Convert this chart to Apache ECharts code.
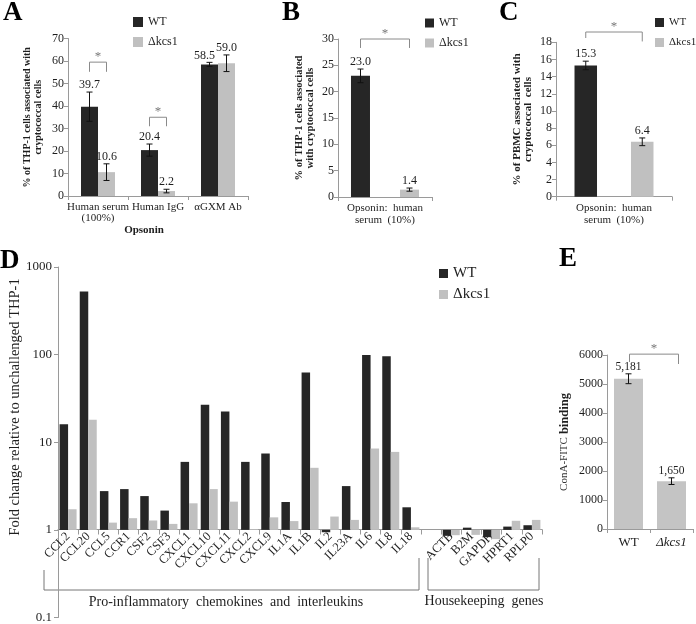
<!DOCTYPE html>
<html>
<head>
<meta charset="utf-8">
<script src="https://cdn.jsdelivr.net/npm/echarts@6/dist/echarts.min.js"></script>
<style>
  html, body { margin: 0; padding: 0; background: #fff; }
  #chart { width: 696px; height: 624px; }
</style>
</head>
<body>
<div id="chart"></div>
<script>
const SERIF = '"Liberation Serif", "DejaVu Serif", serif';
const WT_COLOR = '#262626';
const KO_COLOR = '#c0c0c0';
const AXIS_COLOR = '#9a9a9a';
const TEXT_COLOR = '#1e1e1e';

// A: THP-1 association by opsonin
const opsoninA = ['Human serum\n(100%)', 'Human IgG', 'αGXM Ab'];
const wtA = [39.7, 20.4, 58.5];
const wtErrA = [6.5, 2.7, 0.9];
const kcsA = [10.6, 2.2, 59.0];
const kcsErrA = [3.7, 0.8, 3.7];

// B: THP-1, human serum 10%
const opsoninB = ['Opsonin:  human\nserum  (10%)'];
const wtB = [23.0];
const wtErrB = [1.3];
const kcsB = [1.4];
const kcsErrB = [0.3];

// C: PBMC, human serum 10%
const opsoninC = ['Opsonin:  human\nserum  (10%)'];
const wtC = [15.3];
const wtErrC = [0.5];
const kcsC = [6.4];
const kcsErrC = [0.45];

// D: fold change (log scale), empty slot separates the two gene groups
const genes = ['CCL2', 'CCL20', 'CCL5', 'CCR1', 'CSF2', 'CSF3', 'CXCL1', 'CXCL10', 'CXCL11', 'CXCL2',
  'CXCL9', 'IL1A', 'IL1B', 'IL2', 'IL23A', 'IL6', 'IL8', 'IL18', '',
  'ACTB', 'B2M', 'GAPDH', 'HPRT1', 'RPLP0'];
const wtD = [16, 525, 2.77, 2.92, 2.43, 1.66, 5.97, 26.8, 22.5, 5.97,
  7.44, 2.08, 62.7, 0.94, 3.16, 99, 95.6, 1.81, null,
  0.855, 1.06, 0.826, 1.09, 1.13];
const kcsD = [1.72, 18.1, 1.21, 1.36, 1.28, 1.17, 2.01, 2.92, 2.10, 1.02,
  1.39, 1.26, 5.11, 1.42, 1.30, 8.48, 7.76, 1.07, null,
  0.87, 0.877, 0.784, 1.27, 1.30];

// E: ConA-FITC binding
const strainsE = ['WT', 'Δkcs1'];
const bindingE = [5181, 1650];
const bindingErrE = [170, 115];

const chart = echarts.init(document.getElementById('chart'));

const oneDec = v => v.toFixed(1);
const thousands = v => String(v).replace(/\B(?=(\d{3})+(?!\d))/g, ',');
const plain = v => String(v);

// error bar + value label drawn above the bar
function errSeries(idx, vals, errs, offset, fmt, fontSize, shifts) {
  return {
    type: 'custom',
    xAxisIndex: idx, yAxisIndex: idx,
    z: 5,
    encode: { x: 0, y: 1 },
    data: vals.map((v, i) => [i, v, errs[i]]),
    renderItem: function (params, api) {
      const i = api.value(0), v = api.value(1), e = api.value(2);
      const hi = api.coord([i, v + e]);
      const lo = api.coord([i, v - e]);
      const x = hi[0] + offset;
      const dx = shifts ? shifts[i] : 0;
      const ln = (x1, y1, x2, y2) => ({
        type: 'line', shape: { x1, y1, x2, y2 },
        style: { stroke: '#111', lineWidth: 1 }
      });
      return {
        type: 'group',
        children: [
          ln(x, hi[1], x, lo[1]),
          ln(x - 3, hi[1], x + 3, hi[1]),
          ln(x - 3, lo[1], x + 3, lo[1]),
          {
            type: 'text', x: x + dx, y: hi[1] - 1,
            style: {
              text: fmt(v), align: 'center', verticalAlign: 'bottom',
              fill: TEXT_COLOR, font: fontSize + 'px ' + SERIF
            }
          }
        ]
      };
    }
  };
}

function valAxis(idx, min, max, interval, name, gap, size, lh) {
  return {
    gridIndex: idx, type: 'value', min, max, interval,
    axisLine: { show: true, lineStyle: { color: AXIS_COLOR } },
    axisTick: { show: true, length: 4, lineStyle: { color: AXIS_COLOR } },
    splitLine: { show: false },
    axisLabel: { color: TEXT_COLOR, fontFamily: SERIF, fontSize: 12, margin: 4, formatter: plain },
    name, nameLocation: 'middle', nameRotate: 90, nameGap: gap,
    nameTextStyle: { color: TEXT_COLOR, fontFamily: SERIF, fontWeight: 'bold', fontSize: size, lineHeight: lh }
  };
}

function catAxis(idx, data, extra) {
  return Object.assign({
    gridIndex: idx, type: 'category', data,
    axisLine: { show: true, lineStyle: { color: AXIS_COLOR } },
    axisTick: { show: true, length: 4, lineStyle: { color: AXIS_COLOR } },
    axisLabel: { color: TEXT_COLOR, fontFamily: SERIF, fontSize: 11, lineHeight: 11, margin: 6, interval: 0 }
  }, extra || {});
}

function legendAt(left, top, size, fontSize, gap) {
  return {
    left, top, orient: 'vertical', padding: 0, icon: 'rect',
    itemWidth: size, itemHeight: size, itemGap: gap, selectedMode: false,
    data: ['WT', 'Δkcs1'],
    textStyle: { color: TEXT_COLOR, fontFamily: SERIF, fontSize, lineHeight: fontSize }
  };
}

const bar = (name, idx, data, color, width, gap) => ({
  name, type: 'bar', xAxisIndex: idx, yAxisIndex: idx, data,
  barWidth: width, barGap: gap,
  itemStyle: { color }
});

const option = {
  animation: false,
  backgroundColor: '#fff',
  textStyle: { fontFamily: SERIF },
  grid: [
    { left: 68, top: 38.5, width: 180, height: 157.5 },
    { left: 338, top: 39, width: 94, height: 158 },
    { left: 556, top: 42.3, width: 116, height: 154.4 },
    { left: 58, top: 267, width: 484, height: 352 },
    { left: 607, top: 355, width: 86, height: 174 }
  ],
  legend: [
    legendAt(133, 16, 10, 12, 8),
    legendAt(425, 17, 9, 12, 8),
    legendAt(655, 17, 9, 11, 9),
    legendAt(439, 266, 9, 15, 6)
  ],
  xAxis: [
    catAxis(0, opsoninA, {
      name: 'Opsonin', nameLocation: 'middle', nameGap: 28,
      nameTextStyle: { color: TEXT_COLOR, fontFamily: SERIF, fontWeight: 'bold', fontSize: 11, padding: [0, 28, 0, 0] }
    }),
    catAxis(1, opsoninB, { axisLabel: { color: TEXT_COLOR, fontFamily: SERIF, fontSize: 11, lineHeight: 12, margin: 5 } }),
    catAxis(2, opsoninC, { axisLabel: { color: TEXT_COLOR, fontFamily: SERIF, fontSize: 11, lineHeight: 12, margin: 5 } }),
    catAxis(3, genes, {
      offset: -88,
      axisTick: { show: true, length: 5, lineStyle: { color: AXIS_COLOR } },
      axisLabel: { color: TEXT_COLOR, fontFamily: SERIF, fontSize: 12.5, rotate: 45, margin: 5, interval: 0 }
    }),
    catAxis(4, strainsE, {
      axisLabel: {
        color: TEXT_COLOR, fontFamily: SERIF, fontSize: 13, margin: 7, interval: 0,
        formatter: v => v === 'WT' ? v : '{i|' + v + '}',
        rich: { i: { fontStyle: 'italic', fontFamily: SERIF, fontSize: 13, color: TEXT_COLOR } }
      }
    })
  ],
  yAxis: [
    valAxis(0, 0, 70, 10, '% of THP-1 cells associated with\ncryptococcal cells', 24, 10, 11),
    valAxis(1, 0, 30, 5, '% of THP-1 cells associated\nwith cryptococcal cells', 22, 10.5, 11),
    valAxis(2, 0, 18, 2, '% of PBMC associated with\ncryptococcal  cells', 22, 11, 11.5),
    {
      gridIndex: 3, type: 'log', logBase: 10, min: 0.1, max: 1000,
      axisLine: { show: true, lineStyle: { color: AXIS_COLOR } },
      axisTick: { show: true, length: 4, lineStyle: { color: AXIS_COLOR } },
      splitLine: { show: false },
      axisLabel: { color: TEXT_COLOR, fontFamily: SERIF, fontSize: 13, margin: 6, formatter: plain }
    },
    Object.assign(valAxis(4, 0, 6000, 1000, '{a|ConA-FITC} {b|binding}', 36, 12, 12), {
      nameTextStyle: {
        color: TEXT_COLOR, fontFamily: SERIF,
        rich: {
          a: { fontFamily: SERIF, fontSize: 11, color: '#333' },
          b: { fontFamily: SERIF, fontSize: 12.5, fontWeight: 'bold', color: TEXT_COLOR }
        }
      }
    })
  ],
  series: [
    bar('WT', 0, wtA, WT_COLOR, 17, 0),
    bar('Δkcs1', 0, kcsA, KO_COLOR, 17, 0),
    errSeries(0, wtA, wtErrA, -8.5, oneDec, 12, [0, 0, -5]),
    errSeries(0, kcsA, kcsErrA, 8.5, oneDec, 12),

    bar('WT', 1, wtB, WT_COLOR, 19, '158%'),
    bar('Δkcs1', 1, kcsB, KO_COLOR, 19, '158%'),
    errSeries(1, wtB, wtErrB, -24.5, oneDec, 12),
    errSeries(1, kcsB, kcsErrB, 24.5, oneDec, 12),

    bar('WT', 2, wtC, WT_COLOR, 22.5, '151%'),
    bar('Δkcs1', 2, kcsC, KO_COLOR, 22.5, '151%'),
    errSeries(2, wtC, wtErrC, -28.25, oneDec, 12),
    errSeries(2, kcsC, kcsErrC, 28.25, oneDec, 12),

    bar('WT', 3, wtD, WT_COLOR, 8.5, 0),
    bar('Δkcs1', 3, kcsD, KO_COLOR, 8.5, 0),

    bar('binding', 4, bindingE, '#c4c4c4', 29, 0),
    errSeries(4, bindingE, bindingErrE, 0, thousands, 11.5)
  ]
};

chart.setOption(option);

// significance brackets, placed from data coordinates
const brackets = [
  { grid: 0, c1: 0, o1: -8.5, c2: 0, o2: 8.5, top: 59.5, tipL: 55.2, tipR: 55.2 },
  { grid: 0, c1: 1, o1: -8.5, c2: 1, o2: 8.5, top: 35, tipL: 31, tipR: 31 },
  { grid: 1, c1: 0, o1: -24.5, c2: 0, o2: 24.5, top: 30, tipL: 28.3, tipR: 28.3 },
  { grid: 2, c1: 0, o1: -28.25, c2: 0, o2: 28.25, top: 19.2, tipL: 18.5, tipR: 18.1 },
  { grid: 4, c1: 0, o1: 1, c2: 1, o2: 7, top: 6030, tipL: 5760, tipR: 5690 }
];
const px = (g, c, v) => chart.convertToPixel({ gridIndex: g }, [c, v]);

const graphics = [];
brackets.forEach(b => {
  const x1 = px(b.grid, b.c1, b.top)[0] + b.o1;
  const x2 = px(b.grid, b.c2, b.top)[0] + b.o2;
  const yt = px(b.grid, b.c1, b.top)[1];
  const yl = px(b.grid, b.c1, b.tipL)[1];
  const yr = px(b.grid, b.c1, b.tipR)[1];
  graphics.push({
    type: 'polyline', silent: true,
    shape: { points: [[x1, yl], [x1, yt], [x2, yt], [x2, yr]] },
    style: { stroke: '#8a8a8a', lineWidth: 1, fill: null }
  });
  graphics.push({
    type: 'text', x: (x1 + x2) / 2, y: yt + 1,
    style: { text: '*', align: 'center', verticalAlign: 'bottom', fill: '#777', font: '13px ' + SERIF }
  });
});

// panel letters
[['A', 3, 0], ['B', 282, 0], ['C', 499, 0], ['D', 0, 248], ['E', 559, 246]].forEach(l => {
  graphics.push({
    type: 'text', x: l[1], y: l[2],
    style: { text: l[0], fill: '#000', font: 'bold 27px ' + SERIF, align: 'left', verticalAlign: 'top' }
  });
});

// D: y-axis title and gene group brackets
graphics.push({
  type: 'text', x: 15, y: 407, rotation: Math.PI / 2,
  style: {
    text: 'Fold change relative to unchallenged THP-1', fill: TEXT_COLOR,
    font: '14.5px ' + SERIF, align: 'center', verticalAlign: 'middle'
  }
});
graphics.push({
  type: 'polyline', silent: true,
  shape: { points: [[44, 570], [44, 590], [419, 590], [419, 558]] },
  style: { stroke: '#777', lineWidth: 1, fill: null }
});
graphics.push({
  type: 'polyline', silent: true,
  shape: { points: [[428, 558], [428, 590], [539, 590], [539, 558]] },
  style: { stroke: '#777', lineWidth: 1, fill: null }
});
graphics.push({
  type: 'text', x: 226, y: 602,
  style: {
    text: 'Pro-inflammatory  chemokines  and  interleukins', fill: TEXT_COLOR,
    font: '14px ' + SERIF, align: 'center', verticalAlign: 'middle'
  }
});
graphics.push({
  type: 'text', x: 484, y: 601,
  style: {
    text: 'Housekeeping  genes', fill: TEXT_COLOR,
    font: '14px ' + SERIF, align: 'center', verticalAlign: 'middle'
  }
});

chart.setOption({ graphic: graphics });
</script>
</body>
</html>
